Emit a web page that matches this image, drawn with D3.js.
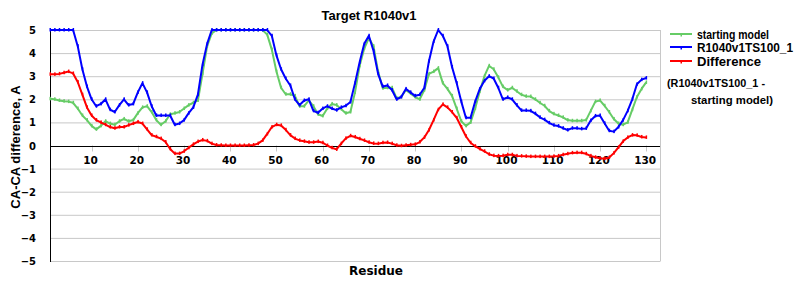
<!DOCTYPE html>
<html><head><meta charset="utf-8">
<script src="https://cdn.jsdelivr.net/npm/d3@7"></script>
<style>body{margin:0;background:#fff}svg{display:block}</style>
</head><body>
<svg id="c" width="800" height="300"></svg>
<script>
const residues = [1,2,3,4,5,6,7,8,9,10,11,12,13,14,15,16,17,18,19,20,21,22,23,24,25,26,27,28,29,30,31,32,33,34,35,36,37,38,39,40,41,42,43,44,45,46,47,48,49,50,51,52,53,54,55,56,57,58,59,60,61,62,63,64,65,66,67,68,69,70,71,72,73,74,75,76,77,78,79,80,81,82,83,84,85,86,87,88,89,90,91,92,93,94,95,96,97,98,99,100,101,102,103,104,105,106,107,108,109,110,111,112,113,114,115,116,117,118,119,120,121,122,123,124,125,126,127,128,129,130];
const modelTS = [
5,5,5,5,5,5,4.3,3.3,2.55,2.0,
1.7,1.8,2.0,1.55,1.45,1.75,2.0,1.75,1.8,2.3,
2.7,2.3,1.7,1.3,1.3,1.3,1.3,0.9,0.95,1.1,
1.4,1.65,2.2,3.5,4.4,5,5,5,5,5,
5,5,5,5,5,5,5,5,4.75,3.9,
3.3,2.9,2.6,2.0,1.75,1.95,2.0,1.5,1.42,1.6,
1.7,1.6,1.53,1.65,1.72,1.88,2.7,3.6,4.4,4.75,
4.1,3.1,2.55,2.6,2.4,2.0,2.1,2.45,2.3,2.15,
2.2,2.5,3.65,4.5,5.0,4.75,4.3,3.4,2.7,1.9,
1.2,1.2,1.9,2.45,2.8,3.0,2.9,2.5,2.0,2.08,
2.0,1.75,1.52,1.52,1.5,1.38,1.22,1.12,0.98,0.88,
0.84,0.75,0.67,0.75,0.75,0.72,0.74,1.08,1.28,1.3,
0.96,0.64,0.6,0.8,1.1,1.5,2.0,2.65,2.85,2.92];
const startingModel = [
2.02,2.0,1.95,1.92,1.9,1.85,1.6,1.3,1.1,0.85,
0.7,0.85,1.05,0.95,0.9,1.05,1.15,1.05,1.1,1.4,
1.65,1.7,1.45,1.1,0.9,1.05,1.35,1.4,1.45,1.6,
1.75,1.85,1.95,3.1,4.3,4.85,5,5,5,5,
5,5,5,5,5,5,5,4.8,4.15,3.2,
2.5,2.22,2.22,2.15,1.7,1.7,1.95,1.7,1.35,1.28,
1.6,1.8,1.75,1.58,1.4,1.45,2.3,3.45,4.2,4.65,
4.3,3.2,2.48,2.5,2.5,2.05,2.1,2.4,2.25,2.1,
2.0,2.4,3.1,3.2,3.35,2.7,2.45,2.15,1.6,1.05,
0.85,1.0,1.6,2.35,3.0,3.45,3.3,2.95,2.55,2.4,
2.5,2.35,2.2,2.13,2.12,2.0,1.85,1.72,1.5,1.37,
1.3,1.22,1.1,1.07,1.07,1.07,1.1,1.5,1.9,1.95,
1.72,1.45,1.15,0.95,0.9,1.0,1.55,2.1,2.45,2.73];
const difference = [
3.08,3.08,3.1,3.15,3.2,3.12,2.75,2.2,1.65,1.3,
1.1,1.0,0.9,0.8,0.75,0.8,0.8,0.88,0.95,1.02,
0.95,0.7,0.45,0.38,0.3,0.15,-0.15,-0.35,-0.35,-0.25,
-0.1,0.05,0.17,0.24,0.2,0.08,0.02,0.01,0,0,
0,0,0,0.01,0.02,0.08,0.22,0.5,0.8,0.9,
0.87,0.68,0.45,0.3,0.22,0.18,0.14,0.14,0.17,0.12,
0.0,-0.1,-0.17,0.08,0.31,0.42,0.37,0.29,0.22,0.14,
0.09,0.08,0.12,0.13,0.08,0.01,-0.01,0.01,0.03,0.05,
0.15,0.35,0.67,1.1,1.55,1.78,1.65,1.45,1.2,0.8,
0.4,0.12,-0.03,-0.15,-0.25,-0.38,-0.44,-0.45,-0.44,-0.4,
-0.4,-0.45,-0.46,-0.47,-0.48,-0.48,-0.48,-0.48,-0.48,-0.47,
-0.45,-0.4,-0.36,-0.32,-0.31,-0.31,-0.36,-0.45,-0.51,-0.55,
-0.57,-0.52,-0.33,-0.08,0.18,0.35,0.45,0.44,0.37,0.35];
const xTicks = [10,20,30,40,50,60,70,80,90,100,110,120,130];
const yTicks = [-5,-4,-3,-2,-1,0,1,2,3,4,5];
const seriesNames = ["starting model","R1040v1TS100_1","Difference"];
const seriesColors = ["#66cc66","#0000ff","#ff0000"];

const svg = d3.select("#c");
const x = d3.scaleLinear().domain([1,133]).range([50,660]);
const y = d3.scaleLinear().domain([-5,5]).range([261,30]);

// grid
svg.append("g").selectAll("line").data(yTicks.filter(d=>d!==0)).join("line")
  .attr("x1",50).attr("x2",660).attr("y1",d=>y(d)+0.5).attr("y2",d=>y(d)+0.5)
  .attr("stroke","#c8c8c8").attr("stroke-width",1);
svg.append("line").attr("x1",660.5).attr("x2",660.5).attr("y1",y(5)).attr("y2",y(-5)+0.5)
  .attr("stroke","#c8c8c8");
// x ticks
svg.append("g").selectAll("line").data(xTicks).join("line")
  .attr("x1",d=>Math.round(x(d))+0.5).attr("x2",d=>Math.round(x(d))+0.5)
  .attr("y1",y(0)).attr("y2",y(0)+6).attr("stroke","#c8c8c8");
// zero line and y axis
svg.append("line").attr("x1",50).attr("x2",660).attr("y1",Math.round(y(0))+0.5).attr("y2",Math.round(y(0))+0.5).attr("stroke","#000");
svg.append("line").attr("x1",50.5).attr("x2",50.5).attr("y1",y(5)).attr("y2",y(-5)+1).attr("stroke","#000");

// tick labels
svg.append("g").selectAll("text").data(yTicks).join("text")
  .attr("x",36).attr("y",d=>y(d)+4).attr("text-anchor","end")
  .attr("font-family","DejaVu Sans").attr("font-weight","bold").attr("font-size",10)
  .text(d=>d<0?"\u2212"+Math.abs(d):d);
svg.append("g").selectAll("text").data(xTicks).join("text")
  .attr("x",d=>x(d)-1).attr("y",y(0)+18).attr("text-anchor","middle")
  .attr("font-family","DejaVu Sans").attr("font-weight","bold").attr("font-size",10.5)
  .text(d=>d);

// lines
const seriesData = [startingModel, modelTS, difference];
const line = d3.line().x((d,i)=>x(residues[i])).y(d=>y(d));
seriesData.forEach((vals,k)=>{
  svg.append("path").datum(vals).attr("d",line).attr("fill","none")
    .attr("stroke",seriesColors[k]).attr("stroke-width",2).attr("stroke-linejoin","round");
  svg.append("g").selectAll("rect").data(vals).join("rect")
    .attr("x",(d,i)=>x(residues[i])-0.5).attr("y",d=>y(d)-2)
    .attr("width",1.5).attr("height",3.5).attr("fill",seriesColors[k]);
});

// titles
svg.append("text").attr("x",369).attr("y",20).attr("text-anchor","middle")
  .attr("font-family","Liberation Sans").attr("font-size",13).attr("font-weight","bold")
  .text("Target R1040v1");
svg.append("text").attr("x",376).attr("y",275).attr("text-anchor","middle")
  .attr("font-family","DejaVu Sans").attr("font-size",12).attr("font-weight","bold")
  .text("Residue");
svg.append("text").attr("transform","translate(20,147) rotate(-90)").attr("text-anchor","middle")
  .attr("font-family","Liberation Sans").attr("font-size",13).attr("font-weight","bold")
  .text("CA-CA difference, A");

// legend
const legY = [34,47,61];
const legW = [72,96,64];
seriesNames.forEach((n,k)=>{
  svg.append("line").attr("x1",670).attr("x2",692).attr("y1",legY[k]).attr("y2",legY[k])
    .attr("stroke",seriesColors[k]).attr("stroke-width",2);
  svg.append("rect").attr("x",680.5).attr("y",legY[k]-1).attr("width",1.5).attr("height",3.5).attr("fill",seriesColors[k]);
  svg.append("text").attr("x",697).attr("y",legY[k]+4.5)
    .attr("font-family","Liberation Sans").attr("font-weight","bold")
    .attr("font-size",k===2?13:12)
    .attr("textLength",legW[k]).attr("lengthAdjust","spacingAndGlyphs").text(n);
});
svg.append("text").attr("x",667).attr("y",87).attr("font-family","Liberation Sans")
  .attr("font-weight","bold").attr("font-size",10.5)
  .attr("textLength",98).attr("lengthAdjust","spacingAndGlyphs").text("(R1040v1TS100_1 -");
svg.append("text").attr("x",691).attr("y",104).attr("font-family","Liberation Sans")
  .attr("font-weight","bold").attr("font-size",10.5)
  .attr("textLength",82).attr("lengthAdjust","spacingAndGlyphs").text("starting model)");
</script>
</body></html>
